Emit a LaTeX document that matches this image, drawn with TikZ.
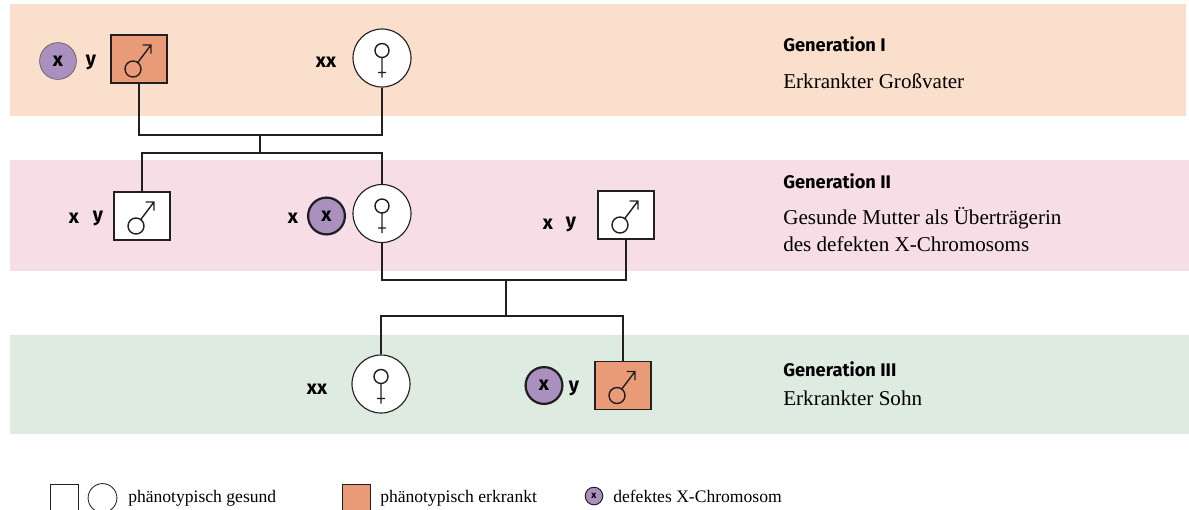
\documentclass[tikz,border=0pt]{standalone}
\usepackage{fontspec}
\setmainfont{Liberation Serif}
\setsansfont{Fira Sans}
\usepackage{xcolor}
\usepackage{tikz}
\usetikzlibrary{positioning,calc}

\definecolor{bandone}{HTML}{FBDFCD}
\definecolor{bandtwo}{HTML}{F7DDE5}
\definecolor{bandthree}{HTML}{DDEBE1}
\definecolor{sick}{HTML}{E99B77}
\definecolor{defx}{HTML}{A990BF}
\definecolor{ink}{HTML}{231F20}

\begin{document}
\begin{tikzpicture}[x=0.025cm,y=-0.025cm,font=\fontsize{15}{19}\selectfont,
   ml/.style={draw=ink,line width=0.8pt,fill=white,minimum width=1.4cm,minimum height=1.2cm,inner sep=0pt},
   fl/.style={circle,draw=ink,line width=0.8pt,fill=white,minimum size=1.45cm,inner sep=0pt},
   xc/.style={circle,draw=ink!70,line width=0.5pt,fill=defx,minimum size=0.92cm,inner sep=0pt,font=\fontsize{14}{14}\sffamily\bfseries},
   xcb/.style={xc,draw=ink,line width=1.6pt},
   chr/.style={font=\fontsize{14}{14}\sffamily\bfseries,inner sep=0pt},
   gen/.style={anchor=base west,inner sep=0pt,font=\fontsize{13}{13}\sffamily\bfseries},
   txt/.style={anchor=base west,inner sep=0pt},
   leg/.style={anchor=base west,inner sep=0pt,font=\fontsize{12.5}{14}\selectfont},
   male/.pic={\draw[ink,line width=1pt] (-6,10) circle (8) (-1.3,3.6) -- (12,-14) (3.5,-14) -- (12,-14) -- (12,-5.5);},
   female/.pic={\draw[ink,line width=1pt] (0,-7.5) circle (7) (0,-0.5) -- (0,19.5) (-4,14.5) -- (4,14.5);}]
  \useasboundingbox (0,0) rectangle (1189,509);
  % bands
  \fill[bandone] (10,4) rectangle (1186,116);
  \fill[bandtwo] (10,160) rectangle (1189,271);
  \fill[bandthree] (10,335) rectangle (1189,434);

  % generation I
  \node[xc] (d1) at (58,61) {x};
  \node[chr] (y1) at (91,62) {y};
  \node[ml,fill=sick] (m1) at (139,59) {};
  \pic at (m1) {male};
  \node[chr] (xx1) at (326,62) {xx};
  \node[fl] (f1) at (382,58) {};
  \pic at (f1) {female};

  % generation II
  \node[chr] (x2) at (74,218) {x};
  \node[chr] (y2) at (98,218) {y};
  \node[ml] (m2) at (142,216) {};
  \pic at (m2) {male};
  \node[chr] (x3) at (293,218) {x};
  \node[xcb] (d2) at (326.5,216) {x};
  \node[fl] (f2) at (382,213.5) {};
  \pic at (f2) {female};
  \node[chr] (x4) at (548,224) {x};
  \node[chr] (y4) at (571,224) {y};
  \node[ml] (m3) at (626,215) {};
  \pic at (m3) {male};

  % generation III
  \node[chr] (xx5) at (317,389) {xx};
  \node[fl] (f3) at (381,384) {};
  \pic at (f3) {female};
  \node[xcb] (d3) at (544,385.5) {x};
  \node[chr] (y5) at (574,388) {y};
  \node[ml,fill=sick] (a3) at (623,385.5) {};
  \pic at (a3) {male};

  % lines
  \coordinate (j1) at (260,135);
  \coordinate (k1) at (260,153);
  \coordinate (j2) at (506,280);
  \coordinate (k2) at (506,316);
  \draw[ink,line width=0.8pt] (m1) |- (j1) -| (f1);
  \draw[ink,line width=0.8pt] (j1) -- (k1);
  \draw[ink,line width=0.8pt] (m2) |- (k1) -| (f2);
  \draw[ink,line width=0.8pt] (f2) |- (j2) -| (m3);
  \draw[ink,line width=0.8pt] (j2) -- (k2);
  \draw[ink,line width=0.8pt] (f3) |- (k2) -| (a3);

  % texts
  \node[gen] (g1) at (783,51) {Generation I};
  \node[txt] (t1) at (783,88) {Erkrankter Großvater};
  \node[gen] (g2) at (783,188) {Generation II};
  \node[txt] (t2) at (783,224) {Gesunde Mutter als Überträgerin};
  \node[txt] (t3) at (783,251) {des defekten X-Chromosoms};
  \node[gen] (g3) at (783,376) {Generation III};
  \node[txt] (t4) at (783,405) {Erkrankter Sohn};

  % legend
  \node[draw=ink,line width=0.6pt,minimum size=0.7cm,inner sep=0pt] (lm) at (64,498) {};
  \node[circle,draw=ink,line width=0.6pt,minimum size=0.72cm,inner sep=0pt] (lf) at (102.5,498) {};
  \node[leg] (l1) at (128,502) {phänotypisch gesund};
  \node[draw=ink,line width=0.6pt,fill=sick,minimum size=0.7cm,inner sep=0pt] (ls) at (356,498) {};
  \node[leg] (l2) at (380,502) {phänotypisch erkrankt};
  \node[circle,draw=ink,line width=0.7pt,fill=defx,minimum size=0.44cm,inner sep=0pt,font=\fontsize{7}{7}\sffamily\bfseries] (lx) at (594,496) {x};
  \node[leg] (l3) at (613,502) {defektes X-Chromosom};
\end{tikzpicture}
\end{document}
